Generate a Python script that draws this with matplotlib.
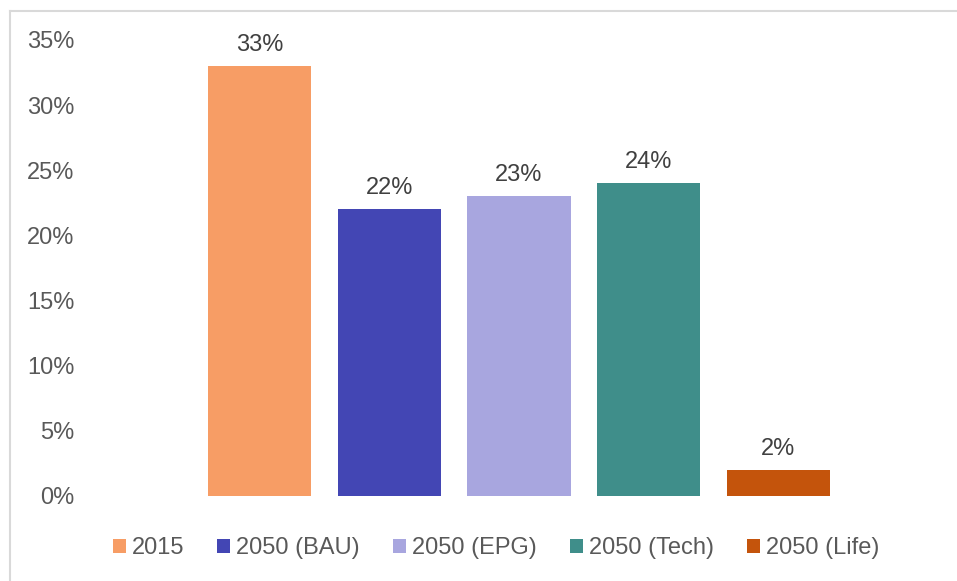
import matplotlib.pyplot as plt
from matplotlib.lines import Line2D
from matplotlib.patches import Patch

plt.rcParams['font.family'] = ['Liberation Sans', 'DejaVu Sans']

# data
labels = ['2015', '2050 (BAU)', '2050 (EPG)', '2050 (Tech)', '2050 (Life)']
values = [0.33, 0.22, 0.23, 0.24, 0.02]
colors = ['#F79D65', '#4346B4', '#A8A6DF', '#3F8E8A', '#C4540C']
yticks = [0, 0.05, 0.10, 0.15, 0.20, 0.25, 0.30, 0.35]

W, H = 957, 581
FS = 17
fig = plt.figure(figsize=(W / 100, H / 100), dpi=100)
ax = fig.add_axes([195 / W, 1 - 496 / H, 648 / W, 456 / H])

x = list(range(len(values)))
bars = ax.bar(x, values, width=0.795, color=colors, label=labels)
for b, v in zip(bars, values):
    ax.text(b.get_x() + b.get_width() / 2, v + 0.008, '%d%%' % round(v * 100),
            ha='center', va='bottom', fontsize=FS, color='#404040')

ax.set_xlim(-0.5, len(values) - 0.5)
ax.set_ylim(0, 0.35)
ax.set_yticks(yticks)
ax.set_yticklabels(['%d%%' % round(t * 100) for t in yticks])
ax.tick_params(axis='y', length=0, pad=87, labelsize=FS, labelcolor='#595959')
ax.set_xticks([])
for s in ax.spines.values():
    s.set_visible(False)

handles = [Patch(facecolor=c, edgecolor='none') for c in colors]
fig.legend(handles, labels, loc='center', bbox_to_anchor=(496 / W, 1 - 548 / H),
           ncol=5, frameon=False, fontsize=FS, handlelength=0.55, handleheight=0.55,
           handletextpad=0.25, columnspacing=1.4, labelcolor='#595959')

# light border of the chart area
fig.add_artist(Line2D([9.5 / W, 9.5 / W], [0, 1 - 10.5 / H], color='#D9D9D9', lw=1.5))
fig.add_artist(Line2D([9.5 / W, 1], [1 - 10.5 / H, 1 - 10.5 / H], color='#D9D9D9', lw=1.5))

fig.savefig('out.png', dpi=100)
